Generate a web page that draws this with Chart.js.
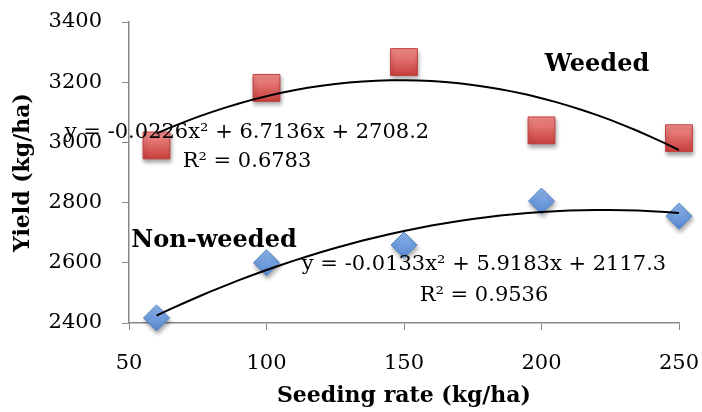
<!DOCTYPE html>
<html lang="en">

<head>
    <meta charset="UTF-8">
    <title>Yield vs seeding rate</title>
    <script src="https://cdn.jsdelivr.net/npm/chart.js"></script>
    <style>
        body {
            margin: 0;
            background: #ffffff;
        }

        #wrap {
            width: 702px;
            height: 412px;
        }
    </style>
</head>

<body>
    <div id="wrap"><canvas id="yieldChart"></canvas></div>

    <script>
        // values
        const seedingRate = [60, 100, 150, 200, 250];
        const weeded = [2990, 3181, 3267, 3040, 3014];
        const nonWeeded = [2417, 2600, 2659, 2805, 2755];

        // trendline coefficients as printed on the chart (a, b, c of ax² + bx + c)
        const weededFit = [-0.0226, 6.7136, 2708.2];
        const nonWeededFit = [-0.0133, 5.9183, 2117.3];

        const xTicks = [50, 100, 150, 200, 250];
        const yTicks = [2400, 2600, 2800, 3000, 3200, 3400];

        const serif = "'DejaVu Serif', serif";

        function curve(fit) {
            const pts = [];
            for (let x = seedingRate[0]; x <= seedingRate[seedingRate.length - 1]; x += 5) {
                pts.push({ x: x, y: fit[0] * x * x + fit[1] * x + fit[2] });
            }
            return pts;
        }

        function points(ys) {
            return seedingRate.map((x, i) => ({ x: x, y: ys[i] }));
        }

        // vertical gradient per marker, light on top like the office-style markers
        function shade(light, dark, half) {
            return function (c) {
                const chart = c.chart;
                if (!chart.scales.y || !c.raw) return dark;
                const y = chart.scales.y.getPixelForValue(c.raw.y);
                if (!isFinite(y)) return dark;
                const g = chart.ctx.createLinearGradient(0, y - half, 0, y + half);
                g.addColorStop(0, light);
                g.addColorStop(1, dark);
                return g;
            };
        }

        // text sitting on the plot: equations and series names
        const notes = [
            { text: 'Weeded', x: 597, y: 65, bold: true },
            { text: 'Non-weeded', x: 214, y: 241, bold: true },
            { text: 'y = -0.0226x² + 6.7136x + 2708.2', x: 247, y: 133 },
            { text: 'R² = 0.6783', x: 247, y: 162 },
            { text: 'y = -0.0133x² + 5.9183x + 2117.3', x: 484, y: 265 },
            { text: 'R² = 0.9536', x: 484, y: 296 }
        ];

        const notesPlugin = {
            id: 'notes',
            beforeDatasetDraw(chart, args) {
                const ctx = chart.ctx;
                ctx.save();
                if (args.meta.type === 'scatter') {
                    ctx.shadowColor = 'rgba(0,0,0,0.35)';
                    ctx.shadowBlur = 4;
                    ctx.shadowOffsetX = 1;
                    ctx.shadowOffsetY = 3;
                }
            },
            afterDatasetDraw(chart) {
                chart.ctx.restore();
            },
            afterDatasetsDraw(chart) {
                const ctx = chart.ctx;
                ctx.save();
                ctx.fillStyle = '#000000';
                ctx.textAlign = 'center';
                ctx.textBaseline = 'middle';
                notes.forEach(n => {
                    ctx.font = n.bold ? 'bold 24px ' + serif : '21px ' + serif;
                    ctx.fillText(n.text, n.x, n.y);
                });
                ctx.restore();
            }
        };

        const ctx = document.getElementById('yieldChart').getContext('2d');

        new Chart(ctx, {
            data: {
                datasets: [
                    {
                        type: 'line',
                        data: curve(weededFit),
                        borderColor: '#000000',
                        borderWidth: 2,
                        pointRadius: 0,
                        tension: 0,
                        order: 0
                    },
                    {
                        type: 'line',
                        data: curve(nonWeededFit),
                        borderColor: '#000000',
                        borderWidth: 2,
                        pointRadius: 0,
                        tension: 0,
                        order: 0
                    },
                    {
                        type: 'scatter',
                        label: 'Weeded',
                        data: points(weeded),
                        pointStyle: 'rect',
                        pointRadius: 19,
                        pointHoverRadius: 19,
                        backgroundColor: shade('#f28e8b', '#c8403d', 13),
                        borderColor: '#c4413e',
                        borderWidth: 1,
                        clip: false,
                        order: 1
                    },
                    {
                        type: 'scatter',
                        label: 'Non-weeded',
                        data: points(nonWeeded),
                        pointStyle: 'rectRot',
                        pointRadius: 13,
                        pointHoverRadius: 13,
                        backgroundColor: shade('#8fb7ee', '#5687d0', 13),
                        borderColor: '#5384c8',
                        borderWidth: 1,
                        clip: false,
                        order: 1
                    }
                ]
            },
            options: {
                responsive: true,
                maintainAspectRatio: false,
                animation: false,
                layout: {
                    autoPadding: false,
                    padding: { top: 22, right: 23, left: 0, bottom: 0 }
                },
                plugins: {
                    legend: { display: false },
                    tooltip: { enabled: false }
                },
                scales: {
                    x: {
                        type: 'linear',
                        min: xTicks[0],
                        max: xTicks[xTicks.length - 1],
                        afterBuildTicks: s => { s.ticks = xTicks.map(v => ({ value: v })); },
                        afterFit: s => {
                            s.height = 89;
                            s.paddingLeft = 0;
                            s.paddingRight = 0;
                        },
                        ticks: {
                            color: '#000000',
                            font: { family: serif, size: 21 },
                            padding: 21,
                            callback: v => String(v)
                        },
                        grid: {
                            drawOnChartArea: false,
                            tickLength: 7,
                            color: '#878787'
                        },
                        border: { color: '#878787', width: 1.5 },
                        title: {
                            display: true,
                            text: 'Seeding rate (kg/ha)',
                            color: '#000000',
                            font: { family: serif, size: 22, weight: 'bold' },
                            padding: { top: 0, bottom: 3 }
                        }
                    },
                    y: {
                        type: 'linear',
                        min: yTicks[0],
                        max: yTicks[yTicks.length - 1],
                        afterBuildTicks: s => { s.ticks = yTicks.map(v => ({ value: v })); },
                        afterFit: s => {
                            s.width = 129;
                            s.paddingTop = 0;
                            s.paddingBottom = 0;
                        },
                        ticks: {
                            color: '#000000',
                            font: { family: serif, size: 21 },
                            padding: 20,
                            callback: v => String(v)
                        },
                        grid: {
                            drawOnChartArea: false,
                            tickLength: 7,
                            color: '#878787'
                        },
                        border: { color: '#878787', width: 1.5 },
                        title: {
                            display: true,
                            text: 'Yield (kg/ha)',
                            color: '#000000',
                            font: { family: serif, size: 22, weight: 'bold' },
                            padding: { top: 10, bottom: 0 }
                        }
                    }
                }
            },
            plugins: [notesPlugin]
        });
    </script>
</body>

</html>
